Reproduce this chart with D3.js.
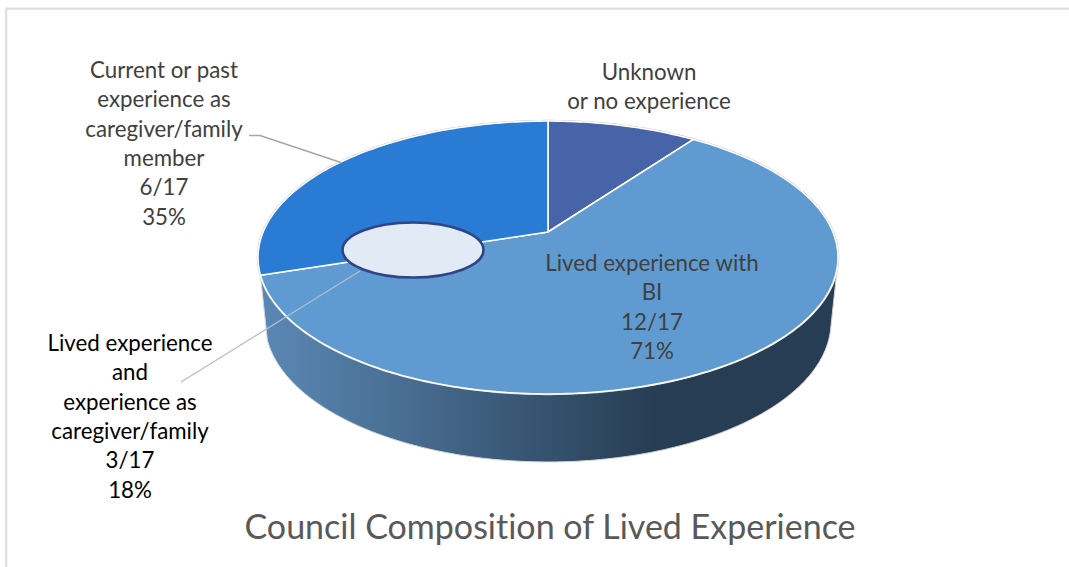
<!DOCTYPE html>
<html>
<head>
<meta charset="utf-8">
<script src="https://cdn.jsdelivr.net/npm/d3@7"></script>
<style>
  html, body { margin: 0; padding: 0; background: #fff; overflow: hidden; }
  text { font-family: Lato, "Open Sans", sans-serif; font-variant-ligatures: none; }
</style>
</head>
<body>
<div id="chart"></div>
<script>
// slice sizes (36deg, 216deg, 108deg)
const categories = ["Unknown or no experience", "Lived experience with BI", "Current or past experience as caregiver/family member"]
const sliceValues = [2, 12, 6]
const sliceColors = ["#4864a8", "#5f9bd0", "#2a7bd3"]

const unknownLabel = ["Unknown", "or no experience"]
const livedLabel = ["Lived experience with", "BI", "12/17", "71%"]
const caregiverLabel = ["Current or past", "experience as", "caregiver/family", "member", "6/17", "35%"]
const bothLabel = ["Lived experience", "and", "experience as", "caregiver/family", "3/17", "18%"]
const title = "Council Composition of Lived Experience"

const width = 1069, height = 567

const svg = d3.select("#chart").append("svg")
  .attr("width", width)
  .attr("height", height)
  .style("display", "block")

// frame of the pasted chart, only top and left are in the shot
svg.append("path")
  .attr("d", d3.line()([[6.2, height], [6.2, 8.7], [width, 8.7]]))
  .attr("fill", "none")
  .attr("stroke", "#dfdfdf")
  .attr("stroke-width", 2.2)

// tilted disc: the apex sits above the middle of the ellipse, so a perspective is needed
const apex = {x: 548, y: 232}
const persp = -0.1868, scaleU = 284.9, scaleV = 131.7

function project(angle, r = 1) {
  const u = r * Math.sin(angle), v = -r * Math.cos(angle)
  const w = 1 + persp * v
  return [apex.x + scaleU * u / w, apex.y + scaleV * v / w]
}

// the lower rim is the same curve moved down and a little narrower
const lowerX = d3.scaleLinear().domain([258, 838]).range([265, 831])
const lowerY = d3.scaleLinear().domain([121, 394]).range([182, 462])
const lower = p => [lowerX(p[0]), lowerY(p[1])]

const arcs = d3.pie().sort(null).startAngle(0).endAngle(2 * Math.PI)(sliceValues)
const line = d3.line()

function rim(a0, a1) {
  const n = Math.ceil(Math.abs(a1 - a0) * 60)
  return d3.range(n + 1).map(i => project(a0 + (a1 - a0) * i / n))
}

const grad = svg.append("defs").append("linearGradient")
  .attr("id", "wall")
  .attr("gradientUnits", "userSpaceOnUse")
  .attr("x1", 265).attr("x2", 655)
  .attr("y1", 0).attr("y2", 0)
grad.append("stop").attr("offset", 0).attr("stop-color", "#5a88b4")
grad.append("stop").attr("offset", 1).attr("stop-color", "#273d53")

// side wall of the big slice, hull so the sides run from rim to rim.
// the top face covers whatever is behind it
const big = arcs[1]
const edge = rim(big.startAngle, big.endAngle)
svg.append("path")
  .attr("d", line(d3.polygonHull(edge.concat(edge.map(lower)))) + "Z")
  .attr("fill", "url(#wall)")
  .attr("stroke", "#d4d4d4")
  .attr("stroke-width", 1)

// faint outline round the whole top
svg.append("path")
  .attr("d", line(rim(0, 2 * Math.PI)) + "Z")
  .attr("fill", "none")
  .attr("stroke", "#c4c4c4")
  .attr("stroke-width", 2.4)

svg.append("g")
  .selectAll("path")
  .data(arcs)
  .join("path")
  .attr("d", d => line([[apex.x, apex.y]].concat(rim(d.startAngle, d.endAngle))) + "Z")
  .attr("fill", (d, i) => sliceColors[i])
  .attr("stroke", "#fff")
  .attr("stroke-width", 1.6)
  .attr("stroke-linejoin", "round")
  .append("title").text((d, i) => categories[i])

// leader lines
svg.append("path")
  .attr("d", line([[249, 135.5], [260, 135.5], [341, 162.5]]))
  .attr("fill", "none")
  .attr("stroke", "#a6a6a6")
  .attr("stroke-width", 1.6)

svg.append("path")
  .attr("d", line([[360, 271], [181, 382]]))
  .attr("fill", "none")
  .attr("stroke", "#b3bdd2")
  .attr("stroke-width", 1.3)

// callout that stands for the 3/17 overlap
svg.append("ellipse")
  .attr("cx", 413).attr("cy", 250)
  .attr("rx", 70.5).attr("ry", 27.5)
  .attr("fill", "#e1eaf5")
  .attr("stroke", "#2f4684")
  .attr("stroke-width", 2.6)

function addLabel(lines, x, y, color) {
  svg.append("text")
    .attr("text-anchor", "middle")
    .attr("font-size", 22.3)
    .attr("fill", color)
    .selectAll("tspan")
    .data(lines)
    .join("tspan")
    .attr("x", x)
    .attr("y", (d, i) => y + i * 29.3)
    .text(d => d)
}

addLabel(caregiverLabel, 164, 78, "#404040")
addLabel(unknownLabel, 649, 80, "#404040")
addLabel(livedLabel, 652, 271, "#404040")
addLabel(bothLabel, 130, 351, "#000")

svg.append("text")
  .attr("x", 550)
  .attr("y", 539)
  .attr("text-anchor", "middle")
  .attr("font-size", 34)
  .attr("fill", "#595959")
  .text(title)
</script>
</body>
</html>
